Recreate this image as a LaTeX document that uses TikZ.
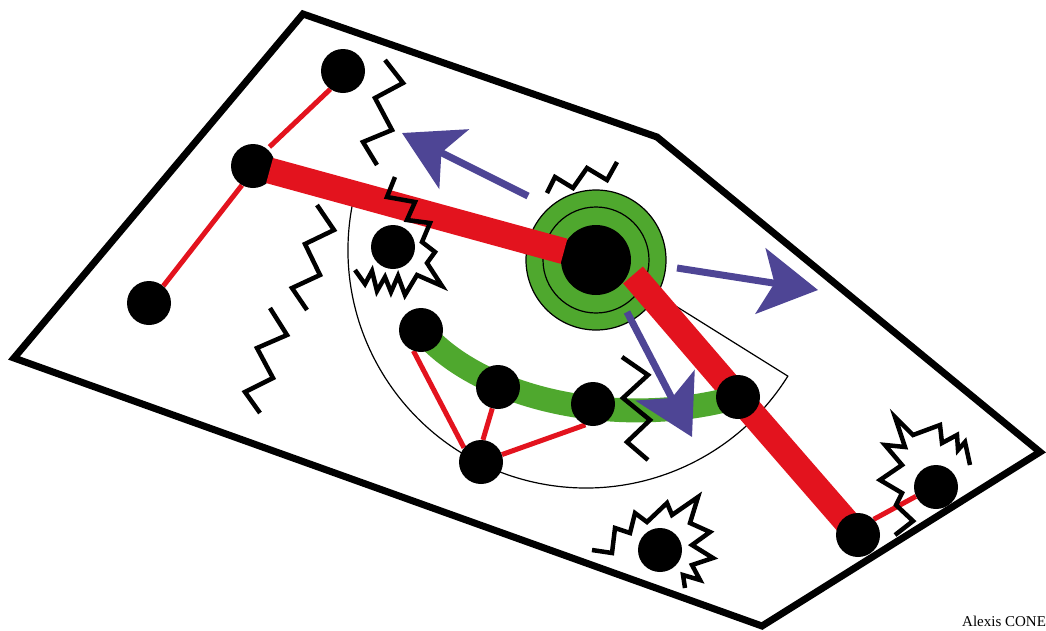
\documentclass[tikz,border=0pt]{standalone}
\usepackage{fontspec}
\newfontfamily\creditfont{Liberation Serif}
\usetikzlibrary{arrows.meta,backgrounds}
\definecolor{barred}{HTML}{E3131E}
\definecolor{bandgreen}{HTML}{4FA82E}
\definecolor{arrowblue}{HTML}{4E4595}

\begin{document}
\begin{tikzpicture}[
  x=1pt, y=-1pt,
  dot/.style={circle, fill=black, inner sep=0pt, minimum size=44pt},
  hubdot/.style={circle, fill=black, inner sep=0pt, minimum size=70pt},
  outline/.style={line width=7pt, line join=miter},
  redbar/.style={line width=26pt, barred},
  redlink/.style={line width=5pt, barred},
  greenband/.style={line width=24pt, bandgreen},
  thinline/.style={line width=1.2pt},
  bluearrow/.style={-{Stealth[length=58pt, width=66pt, inset=14pt]}, line width=7pt, arrowblue},
  zig/.style={line width=4.5pt, line join=miter}
]
\useasboundingbox (0,0) rectangle (1046,630);

%% Dots
\node[dot] (top) at (343,71) {};
\node[dot] (elbow) at (253,166) {};
\node[dot] (low) at (149,303) {};
\node[hubdot] (hub) at (596,260) {};
\node[dot] (lone) at (393,247) {};
\node[dot] (g1) at (421,330) {};
\node[dot] (g2) at (498,387) {};
\node[dot] (g3) at (593,404) {};
\node[dot] (g4) at (738,397) {};
\node[dot] (foot) at (481,462) {};
\node[dot] (tail) at (858,535) {};
\node[dot] (tailend) at (936,487) {};
\node[dot] (spark) at (660,550) {};

\coordinate (fan) at (586,250);
\coordinate (barstart) at (633,275);

%% Everything under the dots
\begin{scope}[on background layer]
  % field
  \draw[outline] (303,14) -- (657,137) -- (1040,452) -- (762,626) -- (14,358) -- cycle;
  % sector
  \draw[thinline] (fan) ++(191:238) arc (191:32:238) -- (fan);
  % ring round the hub
  \draw[thinline, fill=bandgreen] (hub) circle (70);
  \draw[thinline] (hub) circle (53);
  % long bar and green band
  \draw[redbar] (barstart) -- (g4.center) -- (tail.center);
  \draw[greenband] (g1.center) .. controls (480,400) and (620,430) .. (g4.center);
  % links
  \draw[redlink, shorten >=3pt] (top.235) -- (elbow.50);
  \draw[redlink] (elbow.240) -- (low.50);
  \draw[redlink] (g1.250) -- (foot.140);
  \draw[redlink] (g2.255) -- (foot.85);
  \draw[redlink] (foot) -- (g3.250);
  \draw[redlink] (tail.45) -- (tailend.205);
\end{scope}

%% Short bar, on top of its two dots
\draw[redbar, shorten <=-5pt, shorten >=-2pt] (elbow) -- (hub);

%% Zigzags
\draw[zig] (385,60) -- (403,83) -- (375,98) -- (392,130) -- (363,142) -- (377,165);
\draw[zig] (317,205) -- (334,230) -- (305,244) -- (320,275) -- (292,288) -- (307,310);
\draw[zig] (270,308) -- (287,335) -- (257,348) -- (273,378) -- (245,392) -- (260,413);
\draw[zig] (547,193) -- (555,177) -- (573,188) -- (587,168) -- (607,180) -- (617,162);
\draw[zig] (622,357) -- (648,375) -- (623,398) -- (650,420) -- (627,442) -- (648,460);

%% Bursts
\draw[zig] (395,177) -- (387,197) -- (415,202) -- (407,220) -- (430,223) -- (422,242)
  -- (435,252) -- (427,263) -- (442,286) -- (417,275) -- (405,295) -- (398,276)
  -- (391,292) -- (385,277) -- (377,291) -- (372,271) -- (365,284) -- (355,270);
\draw[zig] (592,550) -- (612,553) -- (615,528) -- (630,533) -- (635,513) -- (647,522)
  -- (667,503) -- (672,515) -- (698,497) -- (690,523) -- (710,532) -- (692,545)
  -- (713,558) -- (692,565) -- (700,580) -- (683,575) -- (685,588);
\draw[zig] (970,465) -- (965,442) -- (958,450) -- (957,435) -- (942,443) -- (940,425)
  -- (913,435) -- (895,417) -- (905,447) -- (885,445) -- (902,465) -- (880,480)
  -- (902,493) -- (896,505) -- (913,521) -- (895,535);

%% Arrows
\coordinate (upfrom) at (528,196);
\coordinate (upto) at (402,133);
\coordinate (rightfrom) at (677,268);
\coordinate (rightto) at (818,290);
\coordinate (downfrom) at (627,312);
\coordinate (downto) at (692,437);
\draw[bluearrow] (upfrom) -- (upto);
\draw[bluearrow] (rightfrom) -- (rightto);
\draw[bluearrow] (downfrom) -- (downto);

%% Credit
\node[font={\creditfont\fontsize{15}{18}\selectfont}, anchor=base west, inner sep=0pt]
  (credit) at (962,626) {Alexis CONE};

\end{tikzpicture}
\end{document}
